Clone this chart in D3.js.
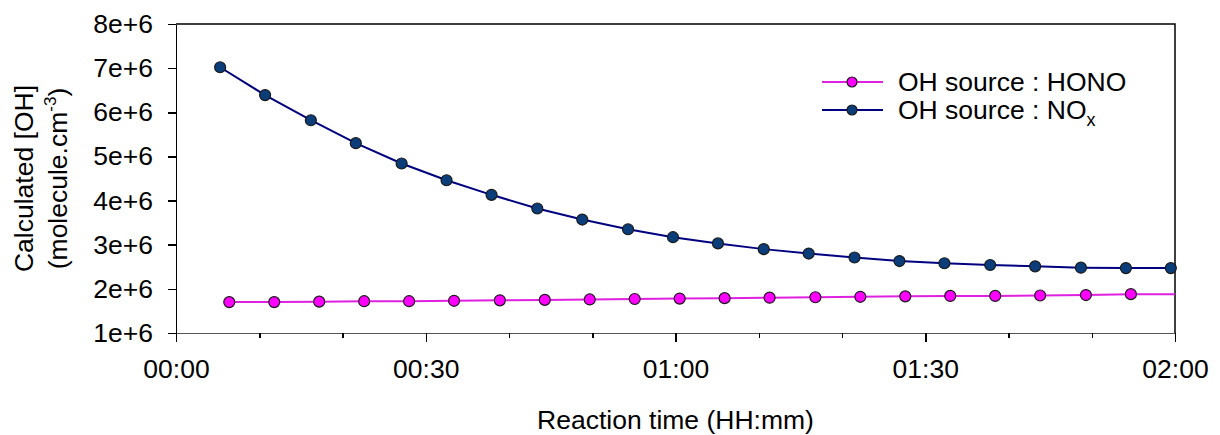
<!DOCTYPE html>
<html lang="en">

<head>
    <meta charset="UTF-8">
    <title>Calculated OH</title>
    <script src="https://cdn.jsdelivr.net/npm/d3@7"></script>
    <style>
        body {
            margin: 0;
            background: #fff;
        }

        svg text {
            font-family: "Liberation Sans", Arial, sans-serif;
            fill: #000;
        }

        .axis path,
        .axis line {
            fill: none;
            shape-rendering: crispEdges;
        }
    </style>
</head>

<body>
</body>

<script>
    // reaction time in minutes
    const honoTime = [6.4, 11.8, 17.2, 22.6, 28.0, 33.4, 38.9, 44.3, 49.7, 55.1, 60.5,
        65.9, 71.3, 76.8, 82.2, 87.6, 93.0, 98.4, 103.8, 109.3, 114.7, 120]
    const honoOH = [1.70e6, 1.70e6, 1.71e6, 1.72e6, 1.72e6, 1.73e6, 1.74e6, 1.75e6, 1.76e6, 1.77e6, 1.78e6,
        1.79e6, 1.80e6, 1.81e6, 1.82e6, 1.83e6, 1.84e6, 1.84e6, 1.85e6, 1.86e6, 1.88e6, 1.88e6]
    // last HONO point has no marker in the original (line only)
    const honoMarked = honoTime.map((d, i) => i < honoTime.length - 1)

    const noxTime = [5.3, 10.7, 16.2, 21.6, 27.1, 32.5, 37.9, 43.4, 48.8, 54.3, 59.7,
        65.1, 70.6, 76.0, 81.5, 86.9, 92.3, 97.8, 103.2, 108.7, 114.1, 119.5]
    const noxOH = [7.02e6, 6.39e6, 5.82e6, 5.30e6, 4.84e6, 4.46e6, 4.13e6, 3.82e6, 3.57e6, 3.35e6, 3.17e6,
        3.03e6, 2.90e6, 2.80e6, 2.71e6, 2.63e6, 2.58e6, 2.54e6, 2.51e6, 2.48e6, 2.47e6, 2.47e6]

    const xMajor = [0, 30, 60, 90, 120]
    const xMinor = [10, 20, 40, 50, 70, 80, 100, 110]
    const yTicks = [1e6, 2e6, 3e6, 4e6, 5e6, 6e6, 7e6, 8e6]
    const yTickLabels = ['1e+6', '2e+6', '3e+6', '4e+6', '5e+6', '6e+6', '7e+6', '8e+6']

    const width = 1220
    const height = 435
    const margin = { top: 24, right: 45, bottom: 102, left: 176 }
    const w = width - margin.left - margin.right
    const h = height - margin.top - margin.bottom
    const fs = 26.5

    const svg = d3.select('body').append('svg').attr('width', width).attr('height', height)
    const g = svg.append('g').attr('transform', 'translate(' + margin.left + ',' + margin.top + ')')

    const x = d3.scaleLinear().domain([0, 120]).range([0, w])
    const y = d3.scaleLinear().domain([1e6, 8e6]).range([h, 0])

    const hhmm = (m) => {
        const hh = Math.floor(m / 60)
        const mm = m % 60
        return String(hh).padStart(2, '0') + ':' + String(mm).padStart(2, '0')
    }

    // frame top + right
    g.append('path')
        .attr('d', 'M0,0H' + w + 'V' + h)
        .attr('fill', 'none')
        .attr('stroke', '#000')
        .attr('stroke-width', 1.5)

    // x axis
    const xAxis = g.append('g')
        .attr('class', 'axis')
        .attr('transform', 'translate(0,' + h + ')')
        .call(d3.axisBottom(x).tickValues(xMajor).tickFormat(hhmm).tickSize(9).tickPadding(17).tickSizeOuter(0))
    xAxis.select('.domain').attr('stroke', '#555').attr('stroke-width', 1.5)
    xAxis.selectAll('line').attr('stroke', '#000').attr('stroke-width', 1.5)
    xAxis.selectAll('text').attr('font-size', fs)

    const xMinorAxis = g.append('g')
        .attr('class', 'axis')
        .attr('transform', 'translate(0,' + h + ')')
        .call(d3.axisBottom(x).tickValues(xMinor).tickFormat('').tickSize(5).tickSizeOuter(0))
    xMinorAxis.select('.domain').remove()
    xMinorAxis.selectAll('line').attr('stroke', '#000').attr('stroke-width', 1.5)

    // y axis
    const yAxis = g.append('g')
        .attr('class', 'axis')
        .call(d3.axisLeft(y).tickValues(yTicks).tickFormat((d, i) => yTickLabels[i]).tickSize(8).tickPadding(15).tickSizeOuter(0))
    yAxis.select('.domain').attr('stroke', '#000').attr('stroke-width', 1.5)
    yAxis.selectAll('line').attr('stroke', '#000').attr('stroke-width', 1.5)
    yAxis.selectAll('text').attr('font-size', fs)

    // axis titles
    svg.append('text')
        .attr('x', margin.left + w / 2)
        .attr('y', 429)
        .attr('text-anchor', 'middle')
        .attr('font-size', fs)
        .text('Reaction time (HH:mm)')

    const yTitle = svg.append('text')
        .attr('transform', 'translate(0,' + (margin.top + h / 2) + ') rotate(-90)')
        .attr('text-anchor', 'middle')
        .attr('font-size', fs)
    yTitle.append('tspan').attr('x', 0).attr('y', 33).text('Calculated [OH]')
    const l2 = yTitle.append('tspan').attr('x', 0).attr('y', 67)
    l2.append('tspan').text('(molecule.cm')
    l2.append('tspan').attr('dy', -11).attr('font-size', 17).text('-3')
    l2.append('tspan').attr('dy', 11).text(')')

    const series = [
        { name: 'hono', time: honoTime, vals: honoOH, marked: honoMarked, line: '#e020e0', fill: '#ff00ff' },
        { name: 'nox', time: noxTime, vals: noxOH, marked: noxTime.map(() => true), line: '#000080', fill: '#0a3d7a' }
    ]

    const line = d3.line().x(d => x(d[0])).y(d => y(d[1]))

    series.forEach(s => {
        const pts = s.time.map((t, i) => [t, s.vals[i], s.marked[i]])
        g.append('path')
            .datum(pts)
            .attr('d', line)
            .attr('fill', 'none')
            .attr('stroke', s.line)
            .attr('stroke-width', 2)
        g.selectAll('circle.' + s.name)
            .data(pts.filter(d => d[2]))
            .enter()
            .append('circle')
            .attr('class', s.name)
            .attr('cx', d => x(d[0]))
            .attr('cy', d => y(d[1]))
            .attr('r', 5.5)
            .attr('fill', s.fill)
            .attr('stroke', '#1a1a1a')
            .attr('stroke-width', 1.2)
    })

    // legend
    const legend = svg.append('g').attr('transform', 'translate(822,82)')
    series.forEach((s, i) => {
        const row = legend.append('g').attr('transform', 'translate(0,' + i * 28 + ')')
        row.append('line').attr('x1', 0).attr('x2', 61).attr('stroke', s.line).attr('stroke-width', 2)
        row.append('circle').attr('cx', 30).attr('r', 5).attr('fill', s.fill)
            .attr('stroke', '#1a1a1a').attr('stroke-width', 1.2)
        const t = row.append('text').attr('x', 76).attr('y', 9).attr('font-size', fs)
        if (s.name === 'hono') {
            t.text('OH source : HONO')
        } else {
            t.append('tspan').text('OH source : NO')
            t.append('tspan').attr('dy', 7).attr('font-size', 18).text('x')
        }
    })
</script>

</html>
